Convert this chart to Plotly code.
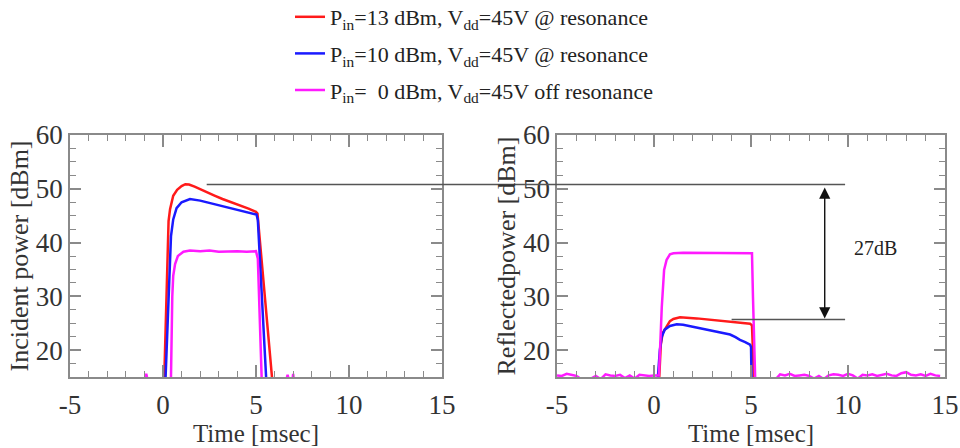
import plotly.graph_objects as go

# ---------------- data ----------------
x_tick_vals = [-5, 0, 5, 10, 15]
x_tick_text = ["-5", "0", "5", "10", "15"]
y_tick_vals = [20, 30, 40, 50, 60]
y_tick_text = ["20", "30", "40", "50", "60"]

legend_names = [
    "P<sub>in</sub>=13 dBm, V<sub>dd</sub>=45V @ resonance",
    "P<sub>in</sub>=10 dBm, V<sub>dd</sub>=45V @ resonance",
    "P<sub>in</sub>=\u00a0\u00a00 dBm, V<sub>dd</sub>=45V off resonance",
]
colors = ["#ff1a1a", "#1a1aff", "#ff1aff"]

# Incident power (left panel)
inc_red_t = [-5, 0.03, 0.07, 0.16, 0.2, 0.25, 0.3, 0.38, 0.55, 0.76, 1.0, 1.2, 1.4, 1.7, 2.0, 2.35,
             2.8, 3.2, 3.6, 4.1, 4.6, 5.0, 5.08, 5.86, 5.92, 15]
inc_red_v = [10, 10, 15, 27.6, 35, 41, 44, 46.2, 48.7, 49.8, 50.5, 50.85, 50.8, 50.4, 49.9, 49.4,
             48.7, 48.1, 47.6, 47.0, 46.3, 45.7, 45.4, 15, 10, 10]

inc_blue_t = [-5, 0.1, 0.14, 0.25, 0.3, 0.35, 0.43, 0.55, 0.73, 1.0, 1.45, 2.0, 2.35, 2.8, 3.23,
              3.7, 4.14, 4.6, 5.03, 5.1, 5.57, 5.62, 15]
inc_blue_v = [10, 10, 15, 25, 33, 37.5, 41.2, 44.3, 46.4, 47.5, 48.1, 47.8, 47.5, 47.1, 46.7,
              46.4, 46.0, 45.6, 45.2, 44.2, 15, 10, 10]

inc_mag_t = [-5, -1.0, -0.9, -0.8, 0.38, 0.43, 0.5, 0.55, 0.65, 0.8, 1.1, 1.45, 2.0, 2.5, 3.0,
             3.5, 4.0, 4.5, 5.0, 5.1, 5.3, 5.35, 6.6, 6.7, 6.8, 6.95, 7.0, 7.05, 15]
inc_mag_v = [14, 14, 15.6, 14, 14, 15, 30, 33.8, 36, 37.5, 38.3, 38.5, 38.4, 38.5, 38.3,
             38.4, 38.4, 38.3, 38.4, 37, 15, 10, 14, 15.4, 14, 14, 15.6, 14, 14]

# Reflected power (right panel)
ref_red_t = [-5, 0.2, 0.27, 0.35, 0.45, 0.6, 0.82, 1.0, 1.34, 2.2, 3.0, 3.92, 4.5, 4.95, 5.05,
             5.1, 5.15, 5.2, 15]
ref_red_v = [10, 10, 15, 21, 23.2, 24.2, 25.4, 25.8, 26.1, 25.9, 25.6, 25.3, 25.0, 24.9, 24.6,
             20, 15, 10, 10]

ref_blue_t = [-5, 0.15, 0.2, 0.3, 0.4, 0.55, 0.82, 1.17, 1.5, 2.0, 2.5, 3.05, 3.5, 3.92, 4.2,
              4.43, 4.7, 4.95, 5.0, 5.03, 5.05, 15]
ref_blue_v = [10, 10, 15, 20, 22.5, 23.8, 24.5, 24.8, 24.7, 24.3, 24.0, 23.5, 23.2, 22.9, 22.4,
              21.9, 21.5, 21.0, 20.6, 15, 10, 10]

ref_mag_t = [-5.0, -4.75, -4.5, -4.25, -4.0, -3.75, -3.5, -3.25, -3.0, -2.75, -2.5, -2.25, -2.0,
             -1.75, -1.5, -1.25, -1.0, -0.75, -0.5, -0.25, 0.0,
             0.25, 0.31, 0.4, 0.52, 0.65, 0.82, 1.0, 1.5, 2.0, 2.5, 3.0, 3.5, 4.0, 4.5, 5.0,
             5.05, 5.1, 5.2, 5.25,
             5.5, 5.75, 6.0, 6.25, 6.5, 6.75, 7.0, 7.25, 7.5, 7.75, 8.0, 8.25, 8.5, 8.75, 9.0,
             9.25, 9.5, 9.75, 10.0, 10.25, 10.5, 10.75, 11.0, 11.25, 11.5, 11.75, 12.0, 12.25,
             12.5, 12.75, 13.0, 13.25, 13.5, 13.75, 14.0, 14.25, 14.5, 14.75]
ref_mag_v = [15.3, 15.2, 15.6, 15.4, 15.2, 14.6, 14.5, 14.7, 15.2, 14.6, 15.5, 15.3, 15.2,
             15.4, 14.8, 15.3, 14.7, 15.4, 15.3, 15.2, 15.3,
             15.3, 20, 28, 34.9, 36.8, 37.8, 38.0, 38.1, 38.1, 38.0, 38.1, 38.1, 38.0, 38.1, 38.1,
             38.0, 30, 15, 10,
             14.5, 14.5, 14.5, 14.5, 15.5, 15.3, 15.6, 15.2, 15.3, 15.4, 15.2, 14.7, 15.2, 14.6,
             15.3, 15.5, 15.4, 15.2, 15.6, 15.3, 14.7, 15.4, 15.3, 15.5, 15.2, 15.4, 15.6, 15.3,
             15.2, 15.7, 15.9, 15.4, 15.3, 15.5, 15.2, 15.6, 15.3, 15.2]

# annotation values
ref_line_y = 50.8          # incident peak level
ref_line_x_start = 2.35    # on left panel
ref_line_x_end = 9.85      # on right panel
low_line_y = 25.7
low_line_x = [4.0, 9.85]
arrow_x = 8.8
arrow_y = [50.5, 25.9]
gap_label = "27dB"
gap_label_pos = (11.4, 39)

# ---------------- figure ----------------
dom1 = [0.0, 0.4251]
dom2 = [0.5566, 1.0]
XR = [-5, 15]
YR = [15, 60]
FONT = "Liberation Serif"
AX = "#8a8a8a"

fig = go.Figure()
inc = [(inc_red_t, inc_red_v), (inc_blue_t, inc_blue_v), (inc_mag_t, inc_mag_v)]
ref = [(ref_red_t, ref_red_v), (ref_blue_t, ref_blue_v), (ref_mag_t, ref_mag_v)]
for i, (t, v) in enumerate(inc):
    fig.add_trace(go.Scatter(x=t, y=v, mode="lines", name=legend_names[i],
                             line=dict(color=colors[i], width=2.5),
                             legendgroup=f"g{i}", showlegend=True,
                             xaxis="x", yaxis="y"))
for i, (t, v) in enumerate(ref):
    fig.add_trace(go.Scatter(x=t, y=v, mode="lines", name=legend_names[i],
                             line=dict(color=colors[i], width=2.5),
                             legendgroup=f"g{i}", showlegend=False,
                             xaxis="x2", yaxis="y2"))


def xaxis(domain, anchor):
    return dict(domain=domain, anchor=anchor, range=XR, tickmode="array",
                tickvals=x_tick_vals, ticktext=x_tick_text, automargin=False,
                ticks="inside", ticklen=12, tickwidth=1.5, tickcolor=AX,
                minor=dict(dtick=1, tick0=0, ticks="inside", ticklen=6, tickwidth=1.2, tickcolor=AX),
                showline=True, linecolor=AX, linewidth=1.5, mirror="allticks",
                showgrid=False, zeroline=False, ticklabelstandoff=3,
                tickfont=dict(family=FONT, size=27, color="#333"),
                title=dict(text="Time [msec]", font=dict(family=FONT, size=25, color="#333"), standoff=0))


def yaxis(anchor, title):
    return dict(domain=[0.0, 1.0], anchor=anchor, range=YR, tickmode="array",
                tickvals=y_tick_vals, ticktext=y_tick_text, automargin=False,
                ticks="inside", ticklen=11, tickwidth=1.5, tickcolor=AX,
                minor=dict(dtick=2.5, tick0=0, ticks="inside", ticklen=6, tickwidth=1.2, tickcolor=AX),
                showline=True, linecolor=AX, linewidth=1.5, mirror="allticks",
                showgrid=False, zeroline=False,
                tickfont=dict(family=FONT, size=27, color="#333"),
                title=dict(text=title, font=dict(family=FONT, size=26, color="#333"), standoff=0))


def to_paper(xv, dom):
    return dom[0] + (xv - XR[0]) / (XR[1] - XR[0]) * (dom[1] - dom[0])


shapes = [
    dict(type="line", xref="paper", yref="y",
         x0=to_paper(ref_line_x_start, dom1), x1=to_paper(ref_line_x_end, dom2),
         y0=ref_line_y, y1=ref_line_y, line=dict(color="#555", width=1.5)),
    dict(type="line", xref="x2", yref="y2", x0=low_line_x[0], x1=low_line_x[1],
         y0=low_line_y, y1=low_line_y, line=dict(color="#555", width=1.5)),
]

annotations = [
    dict(x=arrow_x, y=arrow_y[1], ax=arrow_x, ay=arrow_y[0], xref="x2", yref="y2",
         axref="x2", ayref="y2", text="", showarrow=True, arrowhead=2, startarrowhead=2,
         arrowside="end+start", arrowsize=1.6, startarrowsize=1.6, arrowwidth=1.4, arrowcolor="#111"),
    dict(x=gap_label_pos[0], y=gap_label_pos[1], xref="x2", yref="y2", text=gap_label,
         showarrow=False, font=dict(family=FONT, size=20, color="#222")),
]

fig.update_layout(
    width=960, height=448,
    margin=dict(l=70, r=15, t=135, b=71, autoexpand=False),
    paper_bgcolor="white", plot_bgcolor="white",
    xaxis=xaxis(dom1, "y"), yaxis=yaxis("x", "Incident power [dBm]"),
    xaxis2=xaxis(dom2, "y2"), yaxis2=yaxis("x2", "Reflectedpower [dBm]"),
    shapes=shapes, annotations=annotations,
    legend=dict(x=(290 - 70) / 875, xanchor="left", y=1 + 139 / 242, yanchor="top",
                font=dict(family=FONT, size=22, color="#222"), bgcolor="rgba(0,0,0,0)",
                tracegroupgap=5, itemwidth=30),
    showlegend=True,
)

fig.write_html("out.html")
